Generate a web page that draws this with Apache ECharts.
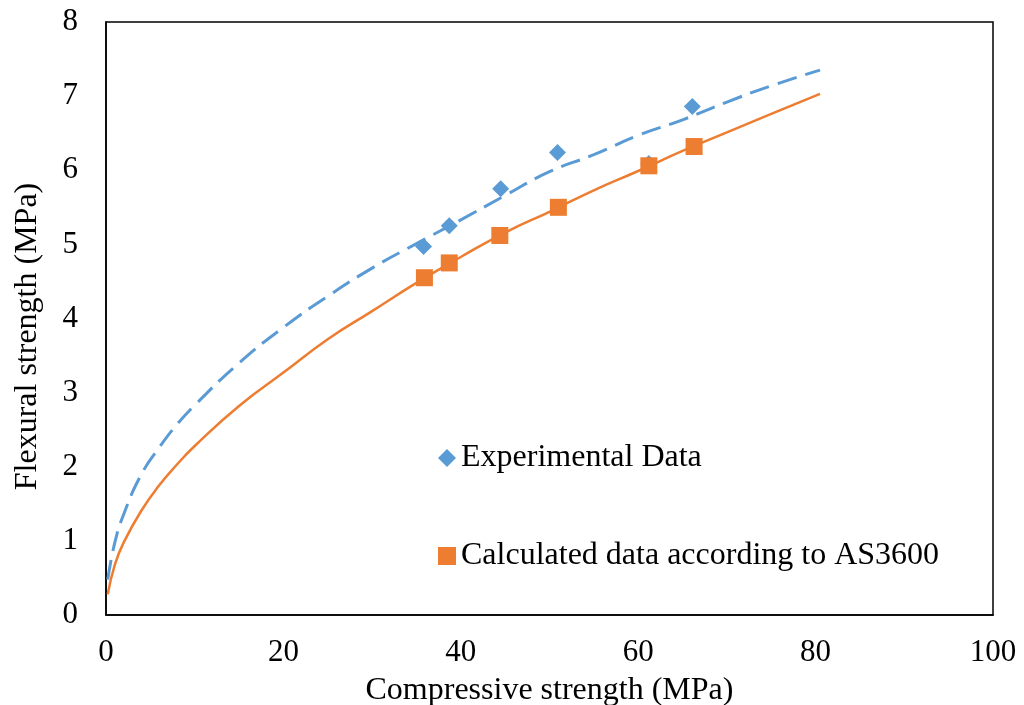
<!DOCTYPE html>
<html>
<head>
<meta charset="utf-8">
<script src="https://cdn.jsdelivr.net/npm/echarts@6/dist/echarts.min.js"></script>
<style>
  html, body { margin: 0; padding: 0; background: #fff; }
  #chart { width: 1024px; height: 705px; }
</style>
</head>
<body>
<div id="chart"></div>
<script>
// measured points
var expX  = [35.8, 38.7, 44.5, 50.9, 61.2, 66.1];
var expY  = [4.97, 5.25, 5.75, 6.24, 6.09, 6.86];
var calcX = [35.9, 38.7, 44.4, 51.0, 61.2, 66.3];
var calcY = [4.55, 4.75, 5.12, 5.50, 6.06, 6.32];

// trend curves
var trendX     = [0.2, 1, 2, 4, 6, 8, 10, 15, 20, 25, 30, 35, 40, 45, 50, 55, 60, 65, 70, 75, 80.5];
var expTrendY  = [0.48, 0.98, 1.36, 1.90, 2.26, 2.57, 2.83, 3.40, 3.88, 4.30, 4.68, 5.01, 5.33, 5.66, 5.98, 6.21, 6.47, 6.68, 6.92, 7.14, 7.35];
var calcTrendY = [0.28, 0.68, 0.98, 1.41, 1.75, 2.03, 2.28, 2.82, 3.27, 3.72, 4.10, 4.48, 4.83, 5.16, 5.44, 5.73, 5.99, 6.26, 6.51, 6.76, 7.03];

var xTicks = [0, 20, 40, 60, 80, 100];
var yTicks = [0, 1, 2, 3, 4, 5, 6, 7, 8];

var blue = '#5B9BD5';
var orange = '#ED7D31';
var font = "'Liberation Serif', 'Times New Roman', serif";

function pairs(xs, ys) {
    return xs.map(function (x, i) { return [x, ys[i]]; });
}

var chart = echarts.init(document.getElementById('chart'));
chart.setOption({
    backgroundColor: '#fff',
    animation: false,
    textStyle: { fontFamily: font, color: '#000' },
    grid: {
        left: 106, right: 31, top: 22, bottom: 90,
        outerBoundsMode: 'none', containLabel: false,
        show: true, borderColor: '#000', borderWidth: 1.5
    },
    legend: {
        orient: 'vertical',
        left: 433, top: 437,
        itemGap: 66,
        itemWidth: 18, itemHeight: 18,
        data: ['Experimental Data', 'Calculated data according to AS3600'],
        textStyle: { fontFamily: font, fontSize: 32, color: '#000' }
    },
    xAxis: {
        type: 'value',
        min: xTicks[0], max: xTicks[xTicks.length - 1], interval: 20,
        name: 'Compressive strength (MPa)',
        nameLocation: 'middle', nameGap: 60,
        nameTextStyle: { fontFamily: font, fontSize: 32, color: '#000' },
        axisLine: { lineStyle: { color: '#000', width: 1.5 } },
        axisTick: { show: false },
        splitLine: { show: false },
        axisLabel: { fontFamily: font, fontSize: 31, color: '#000', margin: 22 }
    },
    yAxis: {
        type: 'value',
        min: yTicks[0], max: yTicks[yTicks.length - 1], interval: 1,
        name: 'Flexural strength (MPa)',
        nameLocation: 'middle', nameGap: 62,
        nameTextStyle: { fontFamily: font, fontSize: 32, color: '#000', padding: [0, 36, 0, 0] },
        axisLine: { show: true, lineStyle: { color: '#000', width: 1.5 } },
        axisTick: { show: false },
        splitLine: { show: false },
        axisLabel: { fontFamily: font, fontSize: 31, color: '#000', margin: 28 }
    },
    series: [
        {
            name: 'exp trend', type: 'line', smooth: true, showSymbol: false,
            data: pairs(trendX, expTrendY),
            lineStyle: { color: blue, width: 3, type: [20, 9] },
            z: 2
        },
        {
            name: 'calc trend', type: 'line', smooth: true, showSymbol: false,
            data: pairs(trendX, calcTrendY),
            lineStyle: { color: orange, width: 2.5 },
            z: 2
        },
        {
            name: 'Experimental Data', type: 'scatter', symbol: 'diamond', symbolSize: 17,
            data: pairs(expX, expY),
            itemStyle: { color: blue, opacity: 1 },
            z: 3
        },
        {
            name: 'Calculated data according to AS3600', type: 'scatter', symbol: 'rect', symbolSize: 17,
            data: pairs(calcX, calcY),
            itemStyle: { color: orange, opacity: 1 },
            z: 4
        }
    ]
});
</script>
</body>
</html>
